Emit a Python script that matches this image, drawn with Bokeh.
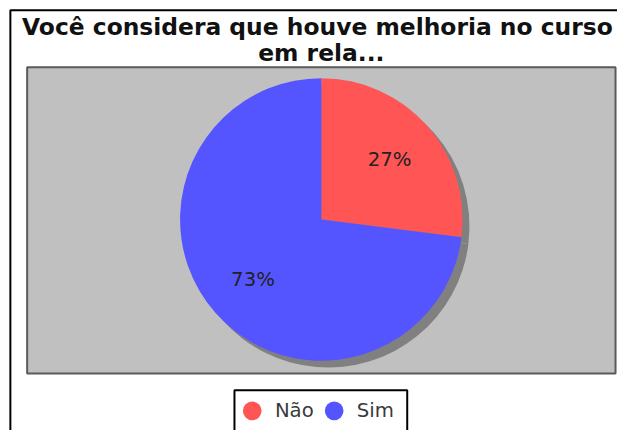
import numpy as np
from bokeh.plotting import figure
from bokeh.models import ColumnDataSource, Range1d
from bokeh.core.properties import value
from bokeh.embed import file_html
from bokeh.resources import INLINE

# ---- data ----
title_lines = ["Você considera que houve melhoria no curso", "em rela..."]
categories = ["Não", "Sim"]
values = [27, 73]
colors = ["#FF5555", "#5555FF"]

# ---- layout: reference pixel positions scaled to the 617x430 canvas ----
W, H = 617, 430
SX, SY = W / 625, H / 438
S = (SX + SY) / 2
def X(px):
    return px * SX
def Y(py):
    return H - py * SY

cx, cy, r = X(325.0), Y(223.0), 143.5 * S
shadow_dx, shadow_dy = 7 * S, 7 * S
label_frac = 0.645

vals = np.array(values, dtype=float)
frac = vals / vals.sum()
cum = np.cumsum(frac)
start = np.pi / 2 - 2 * np.pi * (cum - frac)
end = np.pi / 2 - 2 * np.pi * cum
mid = (start + end) / 2
pct = [f"{round(f * 100):.0f}%" for f in frac]

n = len(values)
src = ColumnDataSource(dict(
    cat=categories, color=colors, start=start, end=end,
    x=[cx] * n, y=[cy] * n,
    xs=[cx + shadow_dx] * n, ys=[cy - shadow_dy] * n,
    lx=cx + label_frac * r * np.cos(mid), ly=cy + label_frac * r * np.sin(mid),
    pct=pct,
))

p = figure(width=W, height=H, output_backend="svg", toolbar_location=None,
           x_range=Range1d(0, W), y_range=Range1d(0, H),
           x_axis_location=None, y_axis_location=None, title=None,
           min_border=0, tools="")
p.grid.visible = False
p.outline_line_color = None
p.background_fill_color = "white"
p.border_fill_color = "white"

# outer chart border (extends beyond right/bottom edges)
p.quad(left=[X(10)], right=[W + 50], top=[Y(10)], bottom=[-100],
       fill_color=None, line_color="black", line_width=2)

# plot area
p.quad(left=[X(27)], right=[X(623)], top=[Y(68)], bottom=[Y(380)],
       fill_color="#C0C0C0", line_color="#5A5A5A", line_width=2)

# pie shadow
p.wedge(x="xs", y="ys", radius=r, radius_units="screen", start_angle="start",
        end_angle="end", direction="clock", fill_color="#808080",
        line_color=None, source=src)
# pie slices
p.wedge(x="x", y="y", radius=r, radius_units="screen", start_angle="start",
        end_angle="end", direction="clock", fill_color="color",
        line_color=None, source=src)
# slice labels
p.text(x="lx", y="ly", text="pct", source=src, text_align="center",
       text_baseline="middle", text_font=value("DejaVu Sans"),
       text_font_size="19.7px", text_color="#222222")

# title
p.text(x=[X(321), X(325)], y=[Y(27), Y(53)], text=title_lines,
       text_align="center", text_baseline="middle",
       text_font=value("DejaVu Sans"), text_font_style="bold",
       text_font_size="23.4px", text_color="#111111")

# legend (drawn manually)
p.quad(left=[X(237)], right=[X(412)], top=[Y(397)], bottom=[-50],
       fill_color="white", line_color="black", line_width=2)
leg_x = [X(255), X(338)]
leg_y = [Y(418)] * len(categories)
p.scatter(x=leg_x, y=leg_y, size=19 * S, marker="circle", fill_color=colors,
          line_color=None)
p.text(x=[x + 23 * S for x in leg_x], y=leg_y, text=categories,
       text_align="left", text_baseline="middle",
       text_font=value("DejaVu Sans"), text_font_size="19.7px",
       text_color="#3A3A3A")

open("out.html", "w").write(file_html(p, INLINE))
